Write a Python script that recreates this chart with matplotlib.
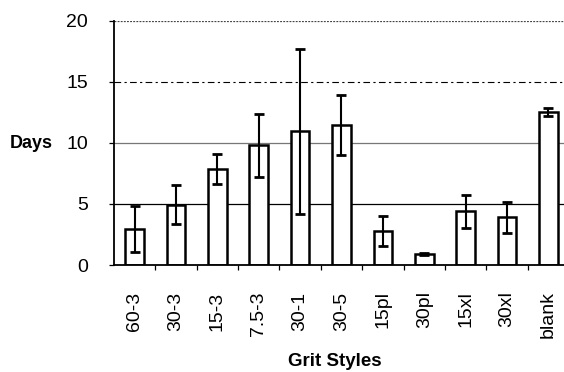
import numpy as np
import matplotlib
matplotlib.use('Agg')
import matplotlib.pyplot as plt

plt.rcParams['font.family'] = ['Liberation Sans', 'DejaVu Sans']

styles = ['60-3', '30-3', '15-3', '7.5-3', '30-1', '30-5',
          '15pl', '30pl', '15xl', '30xl', 'blank']
days = [2.95, 4.95, 7.9, 9.8, 10.95, 11.5, 2.8, 0.9, 4.4, 3.9, 12.55]
errors = [1.9, 1.6, 1.23, 2.6, 6.75, 2.45, 1.23, 0.1, 1.35, 1.3, 0.35]
y_ticks = [0, 5, 10, 15, 20]

fig = plt.figure(figsize=(5.64, 3.72), dpi=100)
W, H = 564, 372
# plot area in pixels: left 114, right 569, top 21, bottom 265
ax = fig.add_axes([114 / W, (H - 265) / H, 455 / W, 244 / H])

x = np.arange(len(styles))

# gridlines, each one a little different
ax.axhline(5, color='black', lw=0.9, zorder=0)
ax.axhline(10, color='#777777', lw=0.9, zorder=0)
ax.axhline(15, color='black', lw=0.8, ls=(0, (6, 3, 2, 3)), zorder=0)
ax.axhline(20, color='#444444', lw=0.9, ls=(0, (1.5, 1)), zorder=0)

ax.bar(x, days, width=0.45, color='white', edgecolor='black', linewidth=1.8, zorder=2)
ax.errorbar(x, days, yerr=errors, fmt='none', ecolor='black', elinewidth=1.5,
            capsize=3.8, capthick=2.0, zorder=3)

ax.set_xlim(-0.5, len(styles) - 0.5)
ax.set_ylim(0, 20)
ax.set_yticks(y_ticks)
ax.set_xticks(x)
ax.set_xticklabels(styles, rotation=90, fontsize=14)
ax.set_xticks(x[:-1] + 0.5, minor=True)
ax.tick_params(axis='x', which='major', length=0, pad=19)
ax.tick_params(axis='x', which='minor', length=3.5, width=0.9, direction='out')
ax.tick_params(axis='y', length=3.6, width=0.9, direction='out', pad=15, labelsize=14)

for side in ['top', 'right']:
    ax.spines[side].set_visible(False)
for side in ['left', 'bottom']:
    ax.spines[side].set_linewidth(1.3)

fig.text(31 / W, 1 - 144 / H, 'Days', fontsize=13, fontweight='bold',
         ha='center', va='center')
fig.text(335 / W, 1 - 362 / H, 'Grit Styles', fontsize=13.5, fontweight='bold',
         ha='center', va='center')

fig.savefig('out.png', dpi=100)
